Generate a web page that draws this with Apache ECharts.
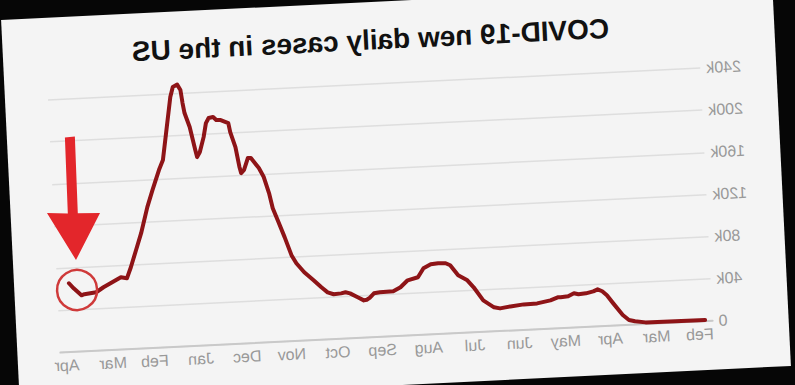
<!DOCTYPE html>
<html>
<head>
<meta charset="utf-8">
<script src="https://cdn.jsdelivr.net/npm/echarts@6/dist/echarts.min.js"></script>
<style>
html,body{margin:0;padding:0;background:#060606;width:795px;height:385px;overflow:hidden}
#paper{position:absolute;left:10px;top:1px;width:772px;height:384px;background:#f4f4f4;transform:rotate(-2.8deg) scaleX(-1);transform-origin:50% 50%}
#chart{width:772px;height:384px}
</style>
</head>
<body>
<div id="paper"><div id="chart"></div></div>
<script>
const titleText = 'COVID-19 new daily cases in the US';

const dates = [
 '2020-01-28','2020-03-08','2020-03-15','2020-03-19','2020-03-23','2020-03-29','2020-04-02','2020-04-05',
 '2020-04-08','2020-04-11','2020-04-16','2020-04-21','2020-04-24','2020-04-28','2020-05-03','2020-05-05',
 '2020-05-10','2020-05-19','2020-05-28','2020-06-06','2020-06-13','2020-06-17','2020-06-24','2020-06-30',
 '2020-07-04','2020-07-10','2020-07-15','2020-07-18','2020-07-23','2020-07-28','2020-08-02','2020-08-06',
 '2020-08-13','2020-08-18','2020-08-23','2020-09-01','2020-09-05','2020-09-08','2020-09-10','2020-09-12',
 '2020-09-16','2020-09-21','2020-09-24','2020-09-27','2020-10-02','2020-10-06','2020-10-10','2020-10-15',
 '2020-10-21','2020-10-26','2020-10-29','2020-11-02','2020-11-06','2020-11-09','2020-11-11','2020-11-14',
 '2020-11-17','2020-11-22','2020-11-24','2020-11-27','2020-11-29','2020-11-30','2020-12-02','2020-12-05',
 '2020-12-06','2020-12-11','2020-12-14','2020-12-16','2020-12-19','2020-12-21','2020-12-23','2020-12-26',
 '2020-12-28','2020-12-29','2021-01-01','2021-01-04','2021-01-05','2021-01-06','2021-01-08','2021-01-11',
 '2021-01-13','2021-01-17','2021-01-20','2021-01-23','2021-01-28','2021-02-01','2021-02-06','2021-02-10',
 '2021-02-14','2021-02-17','2021-02-21','2021-02-27','2021-03-05','2021-03-10','2021-03-18','2021-03-20',
 '2021-03-25','2021-03-28'
];
const cases = [
 1000,1500,3000,4500,9500,21000,29000,33000,
 35000,33300,31800,31200,32400,29800,29200,29300,
 26800,24500,24200,22900,21500,22800,29900,42700,
 49600,54800,64700,66800,67200,66500,63100,54800,
 52400,46100,42600,42300,41600,37500,35900,35400,
 38600,42700,43900,43100,42600,44700,49800,56800,
 64800,73700,81600,99000,115000,127000,141500,156900,
 165700,175500,175700,164500,161700,167800,186600,201000,
 209700,212900,213100,216100,215400,210700,197500,183600,
 178900,185600,207700,221200,230800,243200,248500,246500,
 237000,203100,177700,168400,149600,133800,109400,93500,
 77600,67300,68600,64200,59900,55500,54200,53300,
 60300,65300
];

const monthTicks = ['2020-02-01','2020-03-01','2020-04-01','2020-05-01','2020-06-01','2020-07-01','2020-08-01',
 '2020-09-01','2020-10-01','2020-11-01','2020-12-01','2021-01-01','2021-02-01','2021-03-01','2021-04-01'];
const monthLabels = ['Feb','Mar','Apr','May','Jun','Jul','Aug','Sep','Oct','Nov','Dec','Jan','Feb','Mar','Apr'];
const yTicks = [0,40000,80000,120000,160000,200000,240000];
const yTickLabels = ['0','40k','80k','120k','160k','200k','240k'];
const xStart = '2020-01-23';
const xEnd = '2021-04-05';

const toT = s => Date.parse(s + 'T00:00:00Z');
const tickTimes = monthTicks.map(toT);

const chart = echarts.init(document.getElementById('chart'), null, {renderer:'svg'});
chart.setOption({
  animation:false,
  backgroundColor:'transparent',
  grid:{left:76,right:43,top:82,bottom:49},
  xAxis:{
    type:'value',
    min:toT(xStart),
    max:toT(xEnd),
    axisLine:{show:true,lineStyle:{color:'#c9c9c9',width:2}},
    axisTick:{show:false},
    splitLine:{show:false},
    axisLabel:{
      customValues:tickTimes,
      margin:5,
      color:'#999',
      fontSize:16,
      fontFamily:'Liberation Sans, Arial, sans-serif',
      formatter:function(v){
        let best=-1,bd=1e15;
        tickTimes.forEach((t,i)=>{const d=Math.abs(t-v); if(d<bd){bd=d;best=i;}});
        return bd<3*86400000 ? monthLabels[best] : '';
      }
    }
  },
  yAxis:{
    type:'value',
    min:0,max:240000,interval:40000,
    axisLine:{show:false},
    axisTick:{show:false},
    splitLine:{show:true,lineStyle:{color:'#dedede',width:1.5}},
    axisLabel:{
      margin:6,
      color:'#999',
      fontSize:16,
      fontFamily:'Liberation Sans, Arial, sans-serif',
      formatter:function(v){const i=yTicks.indexOf(v); return i>=0?yTickLabels[i]:'';}
    }
  },
  series:[{
    type:'line',
    data:dates.map((d,i)=>[toT(d),cases[i]]),
    showSymbol:false,
    smooth:false,
    clip:false,
    lineStyle:{color:'#8e1417',width:4,join:'round',cap:'round'},
    z:5
  }],
  graphic:[
    {type:'text',x:404,y:38,z:10,
     style:{text:titleText,fill:'#111',font:'bold 28px "Liberation Sans", Arial, sans-serif',align:'center',verticalAlign:'middle'}},
    {type:'polygon',z:20,
     shape:{points:[[704,120],[714,120.5],[714.8,196.4],[735.6,195],[708.9,243.3],[682.6,197.6],[704.8,196.6]]},
     style:{fill:'#e3262b'}},
    {type:'circle',z:20,shape:{cx:709.3,cy:273.3,r:20},
     style:{fill:'none',stroke:'#cf3a3a',lineWidth:2.5}}
  ]
});
</script>
</body>
</html>
